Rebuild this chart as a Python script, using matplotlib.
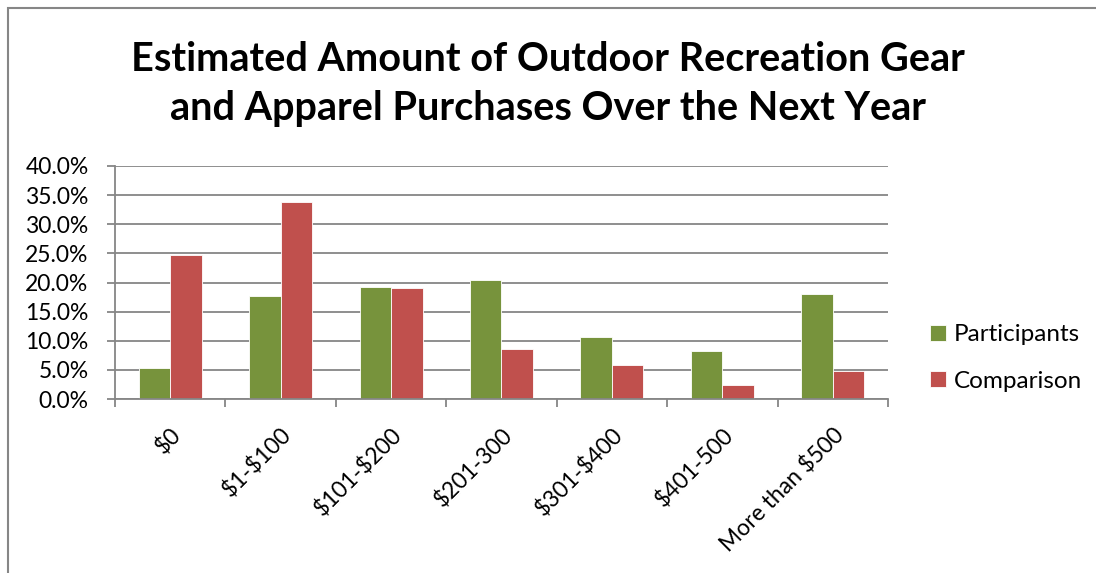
import matplotlib
matplotlib.use("Agg")
import matplotlib.pyplot as plt
import numpy as np
from matplotlib.patches import Rectangle

categories = ["$0", "$1-$100", "$101-$200", "$201-300", "$301-$400", "$401-500", "More than $500"]
participants = [5.3, 17.6, 19.3, 20.4, 10.7, 8.2, 18.0]
comparison = [24.7, 33.8, 19.1, 8.5, 5.9, 2.4, 4.8]
series_names = ["Participants", "Comparison"]
yticks = [0, 5, 10, 15, 20, 25, 30, 35, 40]

plt.rcParams['font.family'] = ['Lato', 'DejaVu Sans']
plt.rcParams['text.parse_math'] = False

W, H = 1096, 573
fig = plt.figure(figsize=(W / 100, H / 100), dpi=100)

# outer chart border
fig.patches.append(Rectangle((8 / W, -0.1), 1.2, (H - 8) / H + 0.1, transform=fig.transFigure,
                             fill=False, edgecolor="#868686", linewidth=1.5))

left, right, top, bottom = 115, 888, 166, 399
ax = fig.add_axes([left / W, 1 - bottom / H, (right - left) / W, (bottom - top) / H])

x = np.arange(len(categories))
bw = 0.2857
green = "#77933C"
red = "#C0504D"
gray = "#868686"
ax.bar(x - bw / 2, participants, bw, color=green, edgecolor="white", linewidth=0.6, label=series_names[0], zorder=3)
ax.bar(x + bw / 2, comparison, bw, color=red, edgecolor="white", linewidth=0.6, label=series_names[1], zorder=3)

ax.set_xlim(-0.5, len(categories) - 0.5)
ax.set_ylim(0, 40)
ax.set_yticks(yticks)
ax.set_yticklabels([f"{v:.1f}%" for v in yticks], fontsize=16.5)
ax.yaxis.grid(True, color=gray, linewidth=1.3, zorder=0)
ax.tick_params(axis='y', length=6, width=1.3, color=gray, pad=13)

ax.set_xticks(np.arange(len(categories) + 1) - 0.5, minor=False)
ax.set_xticklabels([])
ax.tick_params(axis='x', which='major', length=6, color=gray, width=1.3, direction='out')
ax.set_xticks(x, minor=True)
ax.set_xticklabels(categories, minor=True, rotation=45, ha='right', va='top',
                   rotation_mode='anchor', fontsize=16.5)
ax.tick_params(axis='x', which='minor', length=0, pad=18)

for s in ['top', 'right']:
    ax.spines[s].set_visible(False)
for s in ['left', 'bottom']:
    ax.spines[s].set_color(gray)
    ax.spines[s].set_linewidth(1.3)
    ax.spines[s].set_zorder(4)

fig.text(0.5, 1 - 84 / H, "Estimated Amount of Outdoor Recreation Gear\nand Apparel Purchases Over the Next Year",
         ha='center', va='center', fontsize=28.5, fontweight='bold', linespacing=1.38)

leg = fig.legend(loc='center left', bbox_to_anchor=(908 / W, 1 - 358 / H), frameon=False,
                 fontsize=17.5, handlelength=0.65, handleheight=0.65, handletextpad=0.35,
                 labelspacing=1.05)

fig.savefig("out.png", dpi=100, facecolor="white")
